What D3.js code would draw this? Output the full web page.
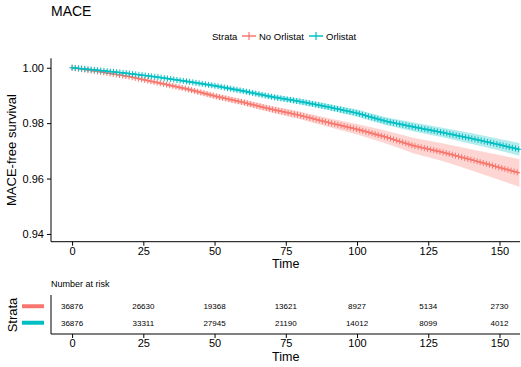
<!DOCTYPE html>
<html lang="en">
<head>
  <meta charset="UTF-8">
  <title>MACE</title>
  <script src="https://d3js.org/d3.v7.min.js"></script>
  <style>
    body { margin: 0; background: #fff; }
    text { font-family: "Liberation Sans", Arial, sans-serif; fill: #000; }
    .axis path, .axis line { stroke: #000; }
  </style>
</head>
<body>
  <div id="chart"></div>
  <script>
    const width = 521, height = 367;

    // survival estimates
    const times = [0, 10, 20, 30, 40, 50, 60, 70, 80, 90, 100, 110, 120, 130, 140, 150, 157];
    const noOrlistat = [1.0000, 0.9985, 0.9968, 0.9946, 0.9924, 0.9898, 0.9875, 0.9850, 0.9828, 0.9802, 0.9778, 0.9750, 0.9718, 0.9695, 0.9668, 0.9640, 0.9620];
    const noOrlistatCI = [0, 0.0002, 0.0004, 0.0006, 0.0007, 0.0009, 0.0010, 0.0012, 0.0014, 0.0016, 0.0019, 0.0023, 0.0028, 0.0032, 0.0038, 0.0045, 0.0050];
    const orlistat = [1.0000, 0.9990, 0.9979, 0.9966, 0.9951, 0.9935, 0.9916, 0.9895, 0.9878, 0.9858, 0.9836, 0.9807, 0.9786, 0.9766, 0.9745, 0.9722, 0.9705];
    const orlistatCI = [0, 0.0002, 0.0003, 0.0004, 0.0005, 0.0006, 0.0007, 0.0008, 0.0010, 0.0011, 0.0013, 0.0014, 0.0016, 0.0017, 0.0019, 0.0021, 0.0023];

    const strata = ["No Orlistat", "Orlistat"];
    const colors = ["#F8766D", "#00BFC4"];
    const xTicks = [0, 25, 50, 75, 100, 125, 150];
    const yTicks = [0.94, 0.96, 0.98, 1.00];
    const riskNoOrlistat = [36876, 26630, 19368, 13621, 8927, 5134, 2730];
    const riskOrlistat = [36876, 33311, 27945, 21190, 14012, 8099, 4012];

    const svg = d3.select("#chart").append("svg")
      .attr("width", width)
      .attr("height", height);

    const x = d3.scaleLinear().domain([-7.4, 157.2]).range([51, 520]);
    const y = d3.scaleLinear().domain([0.9372, 1.0034]).range([241.7, 58.3]);

    // title
    svg.append("text")
      .attr("x", 51).attr("y", 15.5)
      .style("font-size", "14px")
      .text("MACE");

    // legend
    const leg = svg.append("g").attr("transform", "translate(0,36)");
    leg.append("text").attr("x", 212).attr("y", 3.5).style("font-size", "9.5px").text("Strata");
    const legItems = [{ x: 242, label: strata[0], c: colors[0] }, { x: 309, label: strata[1], c: colors[1] }];
    legItems.forEach(d => {
      leg.append("line").attr("x1", d.x).attr("x2", d.x + 14).attr("y1", 0).attr("y2", 0)
        .attr("stroke", d.c).attr("stroke-width", 1.5);
      leg.append("line").attr("x1", d.x + 7).attr("x2", d.x + 7).attr("y1", -4).attr("y2", 4)
        .attr("stroke", d.c).attr("stroke-width", 1.2);
      leg.append("text").attr("x", d.x + 17).attr("y", 3.5).style("font-size", "9.5px").text(d.label);
    });

    // main plot
    const series = [
      { s: noOrlistat, ci: noOrlistatCI, c: colors[0] },
      { s: orlistat, ci: orlistatCI, c: colors[1] }
    ];

    const area = d3.area()
      .x((d, i) => x(times[i]))
      .y0(d => y(d.s - d.ci))
      .y1(d => y(d.s + d.ci));

    const line = d3.line()
      .x((d, i) => x(times[i]))
      .y(d => y(d));

    series.forEach(ser => {
      const pts = ser.s.map((v, i) => ({ s: v, ci: ser.ci[i] }));
      svg.append("path")
        .attr("d", area(pts))
        .attr("fill", ser.c)
        .attr("fill-opacity", 0.3);
    });

    series.forEach(ser => {
      const p = svg.append("path")
        .attr("d", line(ser.s))
        .attr("fill", "none")
        .attr("stroke", ser.c)
        .attr("stroke-width", 1.4);

      // censor marks placed along the drawn path
      const node = p.node();
      const total = node.getTotalLength();
      const marks = [];
      for (let l = 0; l <= total; l += 3.2) marks.push(node.getPointAtLength(l));
      svg.append("g").selectAll("path")
        .data(marks)
        .join("path")
        .attr("d", d => `M${d.x - 2.5},${d.y}h5M${d.x},${d.y - 3}v6`)
        .attr("stroke", ser.c)
        .attr("stroke-width", 1);
    });

    // axes
    const xAxis = svg.append("g").attr("class", "axis")
      .attr("transform", "translate(0,241.7)")
      .call(d3.axisBottom(x).tickValues(xTicks).tickSize(4).tickPadding(1.5).tickSizeOuter(0));
    xAxis.select(".domain").attr("d", "M51,0H520");
    xAxis.selectAll("text").style("font-size", "11px");

    const yAxis = svg.append("g").attr("class", "axis")
      .attr("transform", "translate(51,0)")
      .call(d3.axisLeft(y).tickValues(yTicks).tickFormat(d3.format(".2f")).tickSize(4).tickSizeOuter(0));
    yAxis.select(".domain").attr("d", "M0,58.3V241.7");
    yAxis.selectAll("text").style("font-size", "11px");

    svg.append("text")
      .attr("x", x(75)).attr("y", 268)
      .attr("text-anchor", "middle")
      .style("font-size", "12.5px")
      .text("Time");

    svg.append("text")
      .attr("transform", "translate(16,150) rotate(-90)")
      .attr("text-anchor", "middle")
      .style("font-size", "13px")
      .text("MACE-free survival");

    // risk table
    svg.append("text")
      .attr("x", 51).attr("y", 287)
      .style("font-size", "9px")
      .text("Number at risk");

    const rowY = d3.scaleBand().domain(strata).range([298, 331]);
    const rows = [riskNoOrlistat, riskOrlistat];
    rows.forEach((vals, r) => {
      svg.append("g").selectAll("text")
        .data(vals)
        .join("text")
        .attr("x", (d, i) => x(xTicks[i]))
        .attr("y", rowY(strata[r]) + rowY.bandwidth() / 2)
        .attr("dy", "0.35em")
        .attr("text-anchor", "middle")
        .style("font-size", "8px")
        .text(d => d);
      svg.append("line")
        .attr("x1", 22).attr("x2", 44)
        .attr("y1", rowY(strata[r]) + rowY.bandwidth() / 2)
        .attr("y2", rowY(strata[r]) + rowY.bandwidth() / 2)
        .attr("stroke", colors[r])
        .attr("stroke-width", 4);
    });

    const rAxis = svg.append("g").attr("class", "axis")
      .attr("transform", "translate(0,334)")
      .call(d3.axisBottom(x).tickValues(xTicks).tickSize(4).tickPadding(1.5).tickSizeOuter(0));
    rAxis.select(".domain").attr("d", "M51,0H520");
    rAxis.selectAll("text").style("font-size", "11px");

    svg.append("line")
      .attr("x1", 51).attr("x2", 51).attr("y1", 295).attr("y2", 334)
      .attr("stroke", "#000");

    svg.append("text")
      .attr("x", x(75)).attr("y", 360.5)
      .attr("text-anchor", "middle")
      .style("font-size", "12.5px")
      .text("Time");

    svg.append("text")
      .attr("transform", "translate(17,315) rotate(-90)")
      .attr("text-anchor", "middle")
      .style("font-size", "13px")
      .text("Strata");
  </script>
</body>
</html>
